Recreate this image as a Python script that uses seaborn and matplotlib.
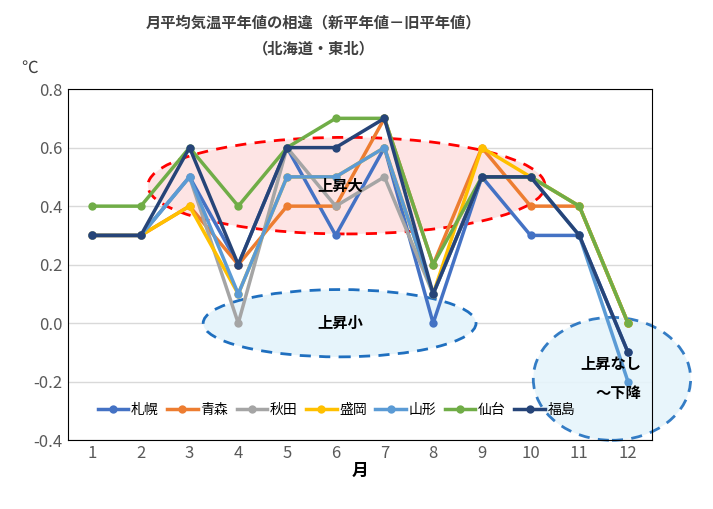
import matplotlib
matplotlib.use("Agg")
import matplotlib.pyplot as plt
from matplotlib.patches import Ellipse
import seaborn as sns
import pandas as pd

plt.rcParams["font.family"] = "Noto Sans CJK JP"

months = list(range(1, 13))
sapporo = [0.3, 0.3, 0.5, 0.2, 0.6, 0.3, 0.6, 0.0, 0.5, 0.3, 0.3, -0.1]
aomori = [0.3, 0.3, 0.4, 0.2, 0.4, 0.4, 0.7, 0.2, 0.6, 0.4, 0.4, 0.0]
akita = [0.3, 0.3, 0.5, 0.0, 0.6, 0.4, 0.5, 0.1, 0.5, 0.5, 0.4, 0.0]
morioka = [0.3, 0.3, 0.4, 0.1, 0.5, 0.5, 0.6, 0.1, 0.6, 0.5, 0.4, 0.0]
yamagata = [0.3, 0.3, 0.5, 0.1, 0.5, 0.5, 0.6, 0.1, 0.5, 0.5, 0.3, -0.2]
sendai = [0.4, 0.4, 0.6, 0.4, 0.6, 0.7, 0.7, 0.2, 0.5, 0.5, 0.4, 0.0]
fukushima = [0.3, 0.3, 0.6, 0.2, 0.6, 0.6, 0.7, 0.1, 0.5, 0.5, 0.3, -0.1]

names = ["札幌", "青森", "秋田", "盛岡", "山形", "仙台", "福島"]
series = [sapporo, aomori, akita, morioka, yamagata, sendai, fukushima]
colors = ["#4472C4", "#ED7D31", "#A5A5A5", "#FFC000", "#5B9BD5", "#70AD47", "#264478"]

df = pd.DataFrame([(m, v, n) for n, s in zip(names, series) for m, v in zip(months, s)],
                  columns=["month", "value", "city"])

fig = plt.figure(figsize=(7.13, 5.09), dpi=100)
ax = fig.add_axes([0.095, 0.135, 0.82, 0.69])

ax.add_patch(Ellipse((6.22, 0.47), 8.15, 0.33, facecolor="#FDE4E4", edgecolor="red",
                     ls=(0, (4, 3)), lw=2, zorder=1))
ax.add_patch(Ellipse((6.08, 0.0), 5.6, 0.23, facecolor="#E6F4FB", edgecolor="#1F6FBF",
                     ls=(0, (4, 3)), lw=2, zorder=1))

sns.lineplot(data=df, x="month", y="value", hue="city", palette=colors, marker="o",
             markersize=6, markeredgewidth=0, linewidth=2.5, ax=ax, zorder=3)

ax.add_patch(Ellipse((11.67, -0.19), 3.23, 0.42, facecolor="#E6F4FB", edgecolor="#1F6FBF",
                     ls=(0, (4, 3)), lw=2, zorder=2, alpha=0.9, clip_on=False))

ax.text(6.1, 0.47, "上昇大", ha="center", va="center", fontsize=11, fontweight="bold", zorder=5)
ax.text(6.1, 0.0, "上昇小", ha="center", va="center", fontsize=11, fontweight="bold", zorder=5)
ax.text(11.65, -0.14, "上昇なし", ha="center", va="center", fontsize=11, fontweight="bold", zorder=5)
ax.text(11.8, -0.24, "～下降", ha="center", va="center", fontsize=11, fontweight="bold", zorder=5)

ax.set_xlim(0.5, 12.5)
ax.set_ylim(-0.4, 0.8)
ax.set_xticks(months)
ax.set_yticks([-0.4, -0.2, 0.0, 0.2, 0.4, 0.6, 0.8])
ax.set_yticklabels([f"{v:.1f}" for v in [-0.4, -0.2, 0.0, 0.2, 0.4, 0.6, 0.8]])
ax.tick_params(labelsize=12, length=0, colors="#595959")
ax.grid(axis="y", color="#D9D9D9", lw=1)
ax.set_axisbelow(True)
for s in ax.spines.values():
    s.set_color("black")
ax.set_xlabel("月", fontsize=12, fontweight="bold", labelpad=0)
ax.set_ylabel("")
ax.legend(loc="lower left", bbox_to_anchor=(0.03, 0.03), ncol=7, frameon=False,
          fontsize=10, handlelength=2.2, columnspacing=0.6, handletextpad=0.2)

fig.text(0.44, 0.955, "月平均気温平年値の相違（新平年値－旧平年値）", ha="center", va="center",
         fontsize=11, fontweight="bold", color="#404040")
fig.text(0.44, 0.905, "（北海道・東北）", ha="center", va="center",
         fontsize=11, fontweight="bold", color="#404040")
fig.text(0.03, 0.865, "℃", fontsize=12, color="#404040", va="center")

fig.savefig("out.png", dpi=100)
